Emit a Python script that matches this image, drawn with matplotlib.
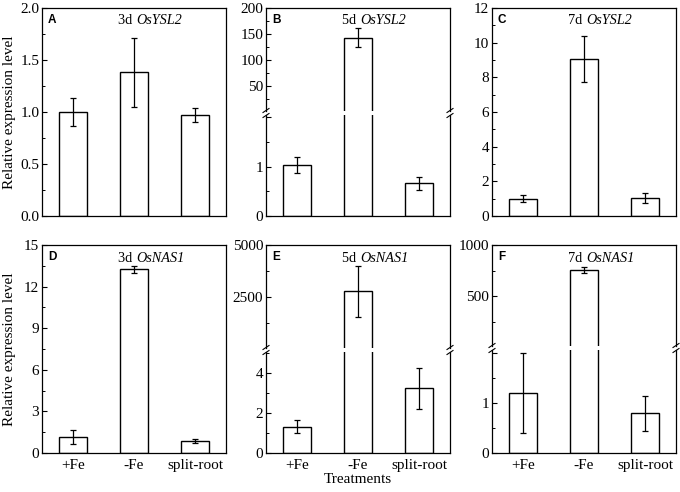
import numpy as np
import matplotlib
matplotlib.use('Agg')
import matplotlib.pyplot as plt
from matplotlib.lines import Line2D
from matplotlib.ticker import MultipleLocator

plt.rcParams['font.family'] = 'Liberation Serif'

# data
treatments = ['+Fe', '-Fe', 'split-root']

ysl2_3d = [1.0, 1.38, 0.97]
ysl2_3d_err = [0.13, 0.33, 0.07]
ysl2_5d = [1.03, 143, 0.66]
ysl2_5d_err = [0.16, 18, 0.14]
ysl2_7d = [1.0, 9.05, 1.03]
ysl2_7d_err = [0.22, 1.32, 0.3]

nas1_3d = [1.15, 13.25, 0.87]
nas1_3d_err = [0.5, 0.25, 0.15]
nas1_5d = [1.32, 2770, 3.23]
nas1_5d_err = [0.31, 1220, 1.03]
nas1_7d = [1.2, 755, 0.8]
nas1_7d_err = [0.8, 26, 0.35]

W, H = 680, 492
fig = plt.figure(figsize=(W / 100, H / 100), dpi=100)

col_x = [(42, 226), (266, 450), (492, 676)]
row_y = [(8, 216), (245, 453)]
x = np.arange(len(treatments))
FS = 11


def rect(x0, x1, y0, y1):
    return [x0 / W, 1 - y1 / H, (x1 - x0) / W, (y1 - y0) / H]


def style(ax, major, minor):
    for s in ax.spines.values():
        s.set_linewidth(0.9)
    ax.set_xlim(-0.5, 2.5)
    ax.yaxis.set_major_locator(MultipleLocator(major))
    ax.yaxis.set_minor_locator(MultipleLocator(minor))
    ax.tick_params(axis='y', direction='in', length=3.5, width=0.8, labelsize=FS, pad=2)
    ax.tick_params(axis='y', which='minor', direction='in', length=2, width=0.7)
    ax.tick_params(axis='x', length=0, labelsize=FS, pad=4)


def bars(ax, vals, errs, keep=None):
    idx = range(len(vals)) if keep is None else keep
    xs = [x[i] for i in idx]
    v = [vals[i] for i in idx]
    e = [errs[i] for i in idx]
    ax.bar(xs, v, width=0.46, color='white', edgecolor='black', linewidth=1.0, zorder=2)
    ax.errorbar(xs, v, yerr=e, fmt='none', ecolor='black', elinewidth=0.9,
                capsize=2, capthick=0.9, zorder=3)


def labels(r, c, letter, day, gene):
    x0, x1 = col_x[c]
    y0, y1 = row_y[r]
    fig.text((x0 + 6) / W, 1 - (y0 + 12) / H, letter, family='Liberation Sans',
             weight='bold', fontsize=8.5, va='center', ha='left')
    xc = (x0 + x1) / 2 + 2
    fig.text(xc / W, 1 - (y0 + 13) / H, day + ' ', fontsize=10.3,
             va='center', ha='right')
    fig.text(xc / W, 1 - (y0 + 13) / H, gene, fontsize=10.3, style='italic',
             va='center', ha='left')


def simple(r, c, vals, errs, ymax, major, minor, letter, day, gene, fmt=None):
    x0, x1 = col_x[c]
    y0, y1 = row_y[r]
    ax = fig.add_axes(rect(x0, x1, y0, y1))
    bars(ax, vals, errs)
    ax.set_ylim(0, ymax)
    style(ax, major, minor)
    if fmt:
        ax.yaxis.set_major_formatter(fmt)
    labels(r, c, letter, day, gene)
    return ax


def broken(r, c, vals, errs, ybreak, low_lim, up_lim, low_ticks, up_ticks, letter, day, gene):
    x0, x1 = col_x[c]
    y0, y1 = row_y[r]
    gap = 4
    axu = fig.add_axes(rect(x0, x1, y0, ybreak - gap / 2))
    axl = fig.add_axes(rect(x0, x1, ybreak + gap / 2, y1))
    big = [i for i, v in enumerate(vals) if v > low_lim[1]]
    bars(axu, vals, errs, big)
    bars(axl, vals, errs)
    axu.set_ylim(*up_lim)
    axl.set_ylim(*low_lim)
    style(axu, *up_ticks)
    style(axl, *low_ticks)
    axu.spines['bottom'].set_visible(False)
    axl.spines['top'].set_visible(False)
    axu.set_xticks([])
    # no labels right at the break
    axu.yaxis.set_major_formatter(lambda v, p: '' if v < up_ticks[0] * 0.99 else f'{v:g}')
    axl.yaxis.set_major_formatter(lambda v, p: '' if v > low_lim[1] * 0.96 else f'{v:g}')
    # break marks
    for xx in (x0, x1):
        for dy in (-gap / 2 - 0.5, gap / 2 + 0.5):
            fig.add_artist(Line2D([(xx - 3) / W, (xx + 3) / W],
                                  [1 - (ybreak + dy + 2) / H, 1 - (ybreak + dy - 2) / H],
                                  color='black', lw=0.8))
    labels(r, c, letter, day, gene)
    return axu, axl


axA = simple(0, 0, ysl2_3d, ysl2_3d_err, 2.0, 0.5, 0.25, 'A', '3d', 'OsYSL2',
             fmt=lambda v, p: f'{v:.1f}')
axA.set_xticks([])
axA.set_ylabel('Relative expression level', fontsize=FS)
axA.yaxis.set_label_coords(-0.14, 0.5)

broken(0, 1, ysl2_5d, ysl2_5d_err, 113, (0, 2.05), (2, 200), (1, 0.5), (50, 25),
       'B', '5d', 'OsYSL2')[1].set_xticks([])

axC = simple(0, 2, ysl2_7d, ysl2_7d_err, 12, 2, 1, 'C', '7d', 'OsYSL2')
axC.set_xticks([])

axD = simple(1, 0, nas1_3d, nas1_3d_err, 15, 3, 1.5, 'D', '3d', 'OsNAS1')
axD.set_xticks(x)
axD.set_xticklabels(treatments)
axD.set_ylabel('Relative expression level', fontsize=FS)
axD.yaxis.set_label_coords(-0.14, 0.5)

axEu, axEl = broken(1, 1, nas1_5d, nas1_5d_err, 350, (0, 5.05), (60, 5000), (2, 1),
                    (2500, 1250), 'E', '5d', 'OsNAS1')
axEl.set_xticks(x)
axEl.set_xticklabels(treatments)
axEl.set_xlabel('Treatments', fontsize=FS, labelpad=1)

axFu, axFl = broken(1, 2, nas1_7d, nas1_7d_err, 348, (0, 2.07), (12, 1000), (1, 0.5),
                    (500, 250), 'F', '7d', 'OsNAS1')
axFl.set_xticks(x)
axFl.set_xticklabels(treatments)

fig.savefig('out.png', dpi=100)
